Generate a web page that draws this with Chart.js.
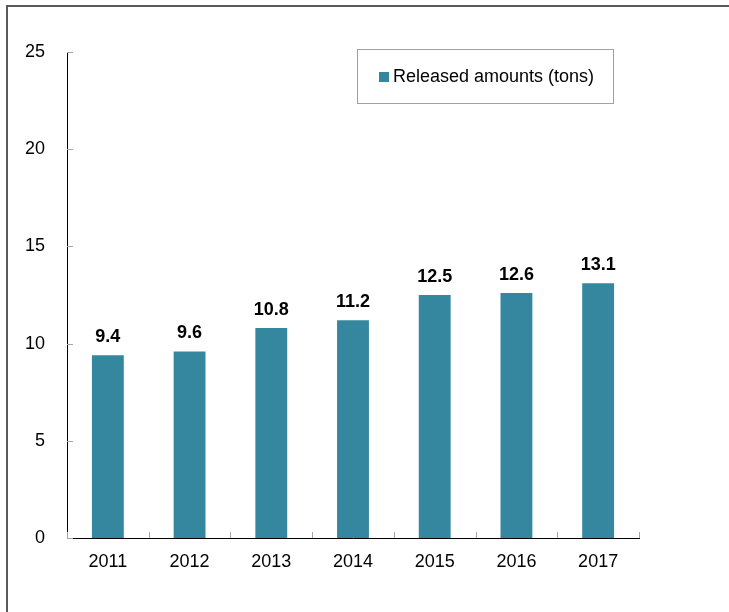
<!DOCTYPE html>
<html>
<head>
<meta charset="utf-8">
<script src="https://cdn.jsdelivr.net/npm/chart.js@4/dist/chart.umd.min.js"></script>
<style>
  html, body { margin: 0; padding: 0; background: #fff; }
  #wrap { position: relative; width: 729px; height: 612px; }
</style>
</head>
<body>
<div id="wrap"><canvas id="c" width="729" height="612"></canvas></div>
<script>
const categories = ['2011', '2012', '2013', '2014', '2015', '2016', '2017'];
const releasedTons = [9.4, 9.6, 10.8, 11.2, 12.5, 12.6, 13.1];
const yTickValues = [0, 5, 10, 15, 20, 25];
const seriesLabel = 'Released amounts (tons)';
const barColor = '#34879F';
const FONT = '"Liberation Sans", Arial, sans-serif';

const decor = {
  id: 'decor',
  beforeDraw(chart) {
    const ctx = chart.ctx;
    ctx.save();
    ctx.fillStyle = '#fff';
    ctx.fillRect(0, 0, chart.width, chart.height);
    // frame lines
    ctx.strokeStyle = '#5a5a5a';
    ctx.lineWidth = 2;
    ctx.beginPath();
    ctx.moveTo(7, 612);
    ctx.lineTo(7, 6);
    ctx.lineTo(729, 6);
    ctx.stroke();
    ctx.restore();
  },
  afterDraw(chart) {
    const ctx = chart.ctx;
    const x = chart.scales.x, y = chart.scales.y;
    const a = chart.chartArea;
    ctx.save();
    // small gray tick marks
    ctx.strokeStyle = '#a6a6a6';
    ctx.lineWidth = 1;
    yTickValues.forEach(v => {
      const py = Math.round(y.getPixelForValue(v)) + 0.5;
      ctx.beginPath();
      ctx.moveTo(a.left, py);
      ctx.lineTo(a.left + 6, py);
      ctx.stroke();
    });
    const n = categories.length;
    const w = (a.right - a.left) / n;
    for (let i = 0; i <= n; i++) {
      const px = Math.round(a.left + i * w) + 0.5;
      ctx.beginPath();
      ctx.moveTo(px, a.bottom);
      ctx.lineTo(px, a.bottom - 6);
      ctx.stroke();
    }
    // data labels
    const meta = chart.getDatasetMeta(0);
    ctx.fillStyle = '#000';
    ctx.font = 'bold 18px ' + FONT;
    ctx.textAlign = 'center';
    ctx.textBaseline = 'bottom';
    meta.data.forEach((bar, i) => {
      ctx.fillText(String(releasedTons[i]), bar.x, bar.y - 9);
    });
    // legend box
    ctx.strokeStyle = '#a0a0a0';
    ctx.lineWidth = 1;
    ctx.strokeRect(357.5, 49.5, 256, 54);
    ctx.fillStyle = barColor;
    ctx.fillRect(379, 72, 10, 10);
    ctx.fillStyle = '#000';
    ctx.font = '18px ' + FONT;
    ctx.textAlign = 'left';
    ctx.textBaseline = 'middle';
    ctx.fillText(seriesLabel, 393, 77);
    ctx.restore();
  }
};

new Chart(document.getElementById('c'), {
  type: 'bar',
  data: {
    labels: categories,
    datasets: [{
      label: seriesLabel,
      data: releasedTons,
      backgroundColor: barColor,
      borderWidth: 0,
      barPercentage: 0.39,
      categoryPercentage: 1.0
    }]
  },
  options: {
    responsive: false,
    animation: false,
    devicePixelRatio: 1,
    layout: { padding: { top: 52, right: 90, bottom: 0, left: 0 } },
    plugins: { legend: { display: false }, tooltip: { enabled: false }, title: { display: false } },
    scales: {
      x: {
        grid: { display: false, drawTicks: false },
        border: { display: true, color: '#000', width: 1 },
        ticks: { color: '#000', font: { family: FONT, size: 18 }, padding: 13, maxRotation: 0 },
        afterFit(axis) { axis.height = 74; }
      },
      y: {
        min: 0, max: 25,
        grid: { display: false, drawTicks: false },
        border: { display: true, color: '#000', width: 1 },
        ticks: {
          stepSize: 5, color: '#000', font: { family: FONT, size: 18 }, padding: 22
        },
        afterBuildTicks(axis) { axis.ticks = yTickValues.map(v => ({ value: v })); },
        afterFit(axis) { axis.width = 67; }
      }
    }
  },
  plugins: [decor]
});
</script>
</body>
</html>
